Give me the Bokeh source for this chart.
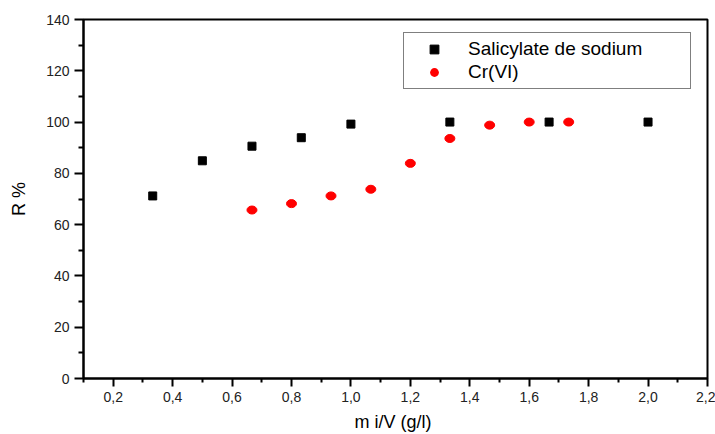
from bokeh.plotting import figure
from bokeh.models import (Range1d, FixedTicker, CustomJSTickFormatter, Legend,
                          LegendItem, ColumnDataSource)
from bokeh.embed import file_html
from bokeh.resources import INLINE

# Salicylate de sodium removal
sal_x = [0.333, 0.500, 0.667, 0.833, 1.000, 1.333, 1.667, 2.000]
sal_r = [71.2, 84.9, 90.6, 93.9, 99.2, 100.0, 100.0, 100.0]

# Cr(VI) removal
cr_x = [0.667, 0.800, 0.933, 1.067, 1.200, 1.333, 1.467, 1.600, 1.733]
cr_r = [65.7, 68.2, 71.2, 73.8, 83.9, 93.6, 98.8, 100.0, 100.0]

x_ticks = [0.2, 0.4, 0.6, 0.8, 1.0, 1.2, 1.4, 1.6, 1.8, 2.0, 2.2]
x_minor = [0.1, 0.3, 0.5, 0.7, 0.9, 1.1, 1.3, 1.5, 1.7, 1.9, 2.1]
y_ticks = [0, 20, 40, 60, 80, 100, 120, 140]
y_minor = [10, 30, 50, 70, 90, 110, 130]

FONT = "Liberation Sans"

p = figure(width=715, height=434, output_backend="svg", toolbar_location=None,
           x_range=Range1d(0.1, 2.2001), y_range=Range1d(0, 140),
           min_border_left=83, min_border_right=8, min_border_top=19,
           min_border_bottom=55)
p.grid.visible = False
p.outline_line_color = "black"
p.outline_line_width = 2
p.background_fill_color = "white"
p.border_fill_color = "white"

p.xaxis.ticker = FixedTicker(ticks=x_ticks, minor_ticks=x_minor)
p.yaxis.ticker = FixedTicker(ticks=y_ticks, minor_ticks=y_minor)
p.xaxis.formatter = CustomJSTickFormatter(
    code="return tick.toFixed(1).replace('.', ',');")

for ax in (p.xaxis[0], p.yaxis[0]):
    ax.axis_line_width = 2
    ax.axis_line_color = "black"
    ax.major_tick_line_width = 2
    ax.minor_tick_line_width = 2
    ax.major_tick_line_color = "black"
    ax.minor_tick_line_color = "black"
    ax.major_tick_in = 0
    ax.minor_tick_in = 0
    ax.major_label_text_font = FONT
    ax.major_label_text_font_size = "14px"
    ax.major_label_text_color = "#222222"
    ax.axis_label_text_font = FONT
    ax.axis_label_text_font_size = "18px"
    ax.axis_label_text_font_style = "normal"
    ax.axis_label_text_color = "black"

p.xaxis.major_tick_out = 8
p.xaxis.minor_tick_out = 4
p.yaxis.major_tick_out = 9
p.yaxis.minor_tick_out = 5
p.xaxis.major_label_standoff = 5
p.yaxis.major_label_standoff = 5
p.xaxis.axis_label = "m i/V  (g/l)"
p.yaxis.axis_label = "R %"
p.xaxis.axis_label_standoff = 7
p.yaxis.axis_label_standoff = 14

sal_src = ColumnDataSource(dict(x=sal_x, r=sal_r))
cr_src = ColumnDataSource(dict(x=cr_x, r=cr_r))

sal = p.scatter("x", "r", source=sal_src, marker="square", size=8,
                fill_color="black", line_color="black")
# legend symbol for Cr(VI), drawn beneath the oval markers
cr_leg = p.scatter("x", "r", source=cr_src, marker="circle", size=7,
                   fill_color="red", line_color=None)
p.ellipse("x", "r", source=cr_src, width=10, height=8,
          width_units="screen", height_units="screen",
          fill_color="red", line_color="red")

legend = Legend(items=[LegendItem(label="Salicylate de sodium", renderers=[sal]),
                       LegendItem(label="Cr(VI)", renderers=[cr_leg])],
                location=(320, 289))
legend.label_text_font = FONT
legend.label_text_font_size = "19px"
legend.label_text_color = "black"
legend.border_line_color = "black"
legend.border_line_width = 1.5
legend.background_fill_color = "white"
legend.background_fill_alpha = 1
legend.padding = 5
legend.margin = 0
legend.spacing = 1
legend.glyph_width = 50
legend.glyph_height = 22
legend.label_height = 22
legend.label_standoff = 9
legend.label_width = 217
p.add_layout(legend, "center")

open("out.html", "w").write(file_html(p, INLINE))
